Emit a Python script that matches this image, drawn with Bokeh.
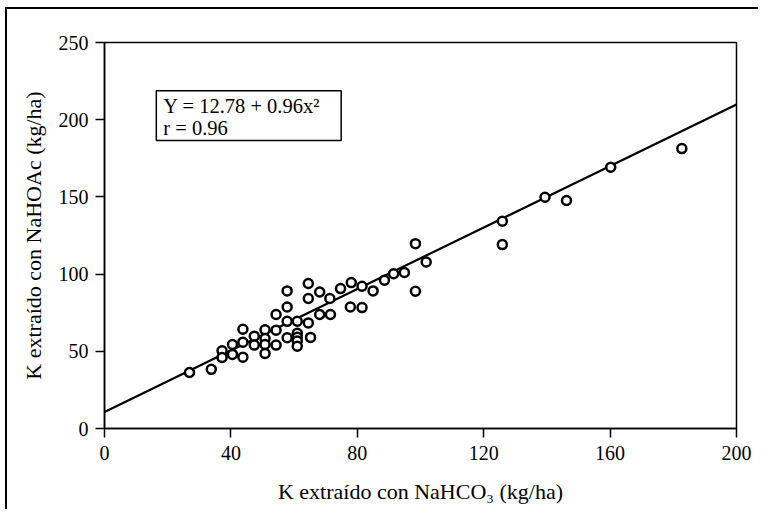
from bokeh.plotting import figure
from bokeh.models import Range1d, FixedTicker, BoxAnnotation, Label
from bokeh.embed import file_html
from bokeh.resources import INLINE

# ---- data ----
nahco3 = [26.9, 33.8, 37.2, 37.2, 40.5, 40.5, 43.8, 43.8, 43.8, 47.4, 47.4,
          50.8, 50.8, 50.8, 50.8, 54.3, 54.3, 54.3, 57.8, 57.8, 57.8, 57.8,
          61.0, 61.0, 61.0, 61.0, 61.0, 64.5, 64.5, 64.5, 65.2, 68.1, 68.1,
          71.3, 71.5, 74.7, 77.8, 78.1, 81.5, 81.5, 85.0, 88.6, 91.5, 94.9,
          98.4, 98.4, 101.8, 125.9, 125.9, 139.4, 146.2, 160.2, 182.7]
nahoac = [36.3, 38.3, 50.3, 46.0, 54.4, 48.0, 64.3, 55.9, 46.2, 59.8, 54.0,
          63.9, 58.3, 54.4, 48.6, 73.8, 63.7, 54.0, 89.1, 78.7, 69.4, 58.8,
          69.5, 61.7, 59.1, 56.6, 53.3, 93.9, 84.2, 68.4, 59.0, 88.4, 73.8,
          84.2, 73.8, 90.6, 78.7, 94.5, 92.1, 78.3, 89.1, 96.0, 100.3, 101.0,
          119.7, 88.9, 107.8, 134.3, 119.1, 149.8, 147.7, 169.2, 181.3]
fit_x = [0, 200]
fit_y = [10.7, 209.8]
x_ticks = [0, 40, 80, 120, 160, 200]
y_ticks = [0, 50, 100, 150, 200, 250]
eq_text = "Y = 12.78 + 0.96x\u00b2"
r_text = "r = 0.96"
x_title = "K extraído con NaHCO\u2083 (kg/ha)"
y_title = "K extraído con NaHOAc (kg/ha)"

FONT = "Liberation Serif"

p = figure(width=753, height=502, x_range=Range1d(0, 200), y_range=Range1d(0, 250),
           output_backend="svg", toolbar_location=None,
           min_border_left=97, min_border_right=24, min_border_top=33, min_border_bottom=83,
           background_fill_color="white", border_fill_color="white")
p.styles = {"border-left": "2px solid black", "border-top": "2px solid black",
            "margin-left": "5px", "margin-top": "7px"}
p.grid.visible = False
p.outline_line_color = "black"
p.outline_line_width = 1.5
p.outline_line_alpha = 1

for ax, ticks in ((p.xaxis[0], x_ticks), (p.yaxis[0], y_ticks)):
    ax.ticker = FixedTicker(ticks=ticks)
    ax.minor_tick_line_color = None
    ax.major_tick_in = 0
    ax.major_tick_out = 9
    ax.major_tick_line_color = "black"
    ax.major_tick_line_width = 1.5
    ax.axis_line_color = "black"
    ax.axis_line_width = 1.5
    ax.major_label_text_font = FONT
    ax.major_label_text_font_size = "20px"
    ax.major_label_text_color = "black"
    ax.axis_label_text_font = FONT
    ax.axis_label_text_font_size = "22px"
    ax.axis_label_text_font_style = "normal"
    ax.axis_label_text_color = "black"

p.xaxis.axis_label = x_title
p.yaxis.axis_label = y_title
p.xaxis.major_label_standoff = 8
p.yaxis.major_label_standoff = 7
p.xaxis.axis_label_standoff = 16
p.yaxis.axis_label_standoff = 10

p.line(fit_x, fit_y, line_color="black", line_width=2.2)
p.scatter(nahco3, nahoac, marker="circle", size=9, fill_color="white",
          line_color="black", line_width=2.5)

box = BoxAnnotation(left=16.4, right=74.9, bottom=186.5, top=218.8,
                    fill_color="white", fill_alpha=1, line_color="black",
                    line_width=1.5, line_alpha=1)
p.add_layout(box)
p.add_layout(Label(x=18.6, y=209.1, text=eq_text, text_font=FONT, text_font_size="20.5px",
                   text_baseline="middle", text_color="black"))
p.add_layout(Label(x=18.6, y=194.9, text=r_text, text_font=FONT, text_font_size="20.5px",
                   text_baseline="middle", text_color="black"))

open("out.html", "w").write(file_html(p, INLINE))
